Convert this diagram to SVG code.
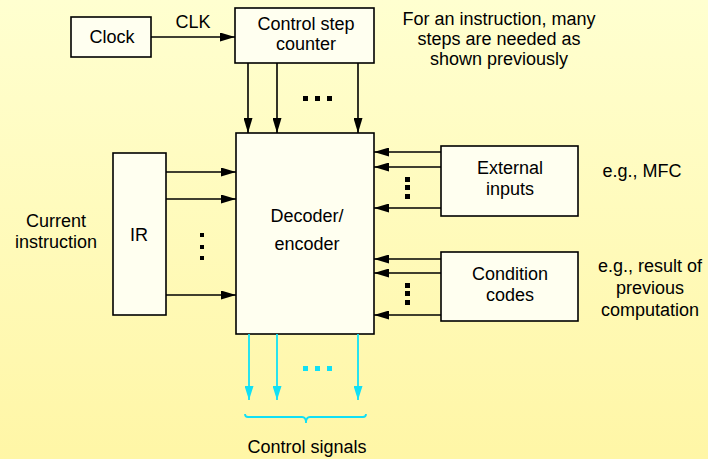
<svg xmlns="http://www.w3.org/2000/svg" width="708" height="459" viewBox="0 0 708 459">
<defs>
<linearGradient id="bg" x1="0" y1="0" x2="0" y2="1">
<stop offset="0" stop-color="#FFFFD0"/>
<stop offset="1" stop-color="#FFF6A6"/>
</linearGradient>
<marker id="ah" markerUnits="userSpaceOnUse" markerWidth="15" markerHeight="9" refX="15" refY="4.5" orient="auto">
<path d="M0,0 L15,4.5 L0,9 z" fill="#000"/>
</marker>
<marker id="ahc" markerUnits="userSpaceOnUse" markerWidth="14" markerHeight="9" refX="14" refY="4.5" orient="auto">
<path d="M0,0 L14,4.5 L0,9 z" fill="#11E0F5"/>
</marker>
</defs>
<style>
text{font-family:"Liberation Sans",Arial,sans-serif;font-size:18px;fill:#000;text-anchor:middle}
.box{fill:#FFFFF0;stroke:#000;stroke-width:1.6}
.ln{stroke:#000;stroke-width:1.6;fill:none;marker-end:url(#ah)}
.cl{stroke:#11E0F5;stroke-width:1.8;fill:none;marker-end:url(#ahc)}
.dot{fill:#000}
.cdot{fill:#11E0F5}
</style>
<rect x="0" y="0" width="708" height="459" fill="url(#bg)"/>

<g id="clock">
<rect class="box" x="71" y="17" width="80" height="40"/>
<text x="112" y="43">Clock</text>
</g>
<g id="counter">
<rect class="box" x="235" y="8" width="139" height="55"/>
<text x="306" y="30">Control step</text>
<text x="306" y="50">counter</text>
</g>
<g id="note-top">
<text x="499" y="25">For an instruction, many</text>
<text x="499" y="45">steps are needed as</text>
<text x="499" y="65">shown previously</text>
</g>
<g id="decoder">
<rect class="box" x="236" y="133" width="138" height="201"/>
<text x="307" y="222">Decoder/</text>
<text x="307" y="250">encoder</text>
</g>
<g id="ir">
<rect class="box" x="113" y="153" width="53" height="162"/>
<text x="139" y="241">IR</text>
</g>
<g id="current-instruction">
<text x="56" y="227">Current</text>
<text x="56" y="248">instruction</text>
</g>
<g id="external">
<rect class="box" x="441" y="146" width="137" height="70"/>
<text x="510" y="174">External</text>
<text x="510" y="195">inputs</text>
</g>
<g id="note-mfc">
<text x="642" y="177">e.g., MFC</text>
</g>
<g id="condition">
<rect class="box" x="441" y="252" width="137" height="69"/>
<text x="510" y="280">Condition</text>
<text x="510" y="301">codes</text>
</g>
<g id="note-cond">
<text x="650" y="272">e.g., result of</text>
<text x="650" y="294">previous</text>
<text x="650" y="316">computation</text>
</g>
<g id="control-signals">
<text x="307" y="453">Control signals</text>
</g>

<g id="connectors">
<line class="ln" x1="151" y1="37" x2="235" y2="37"/>
<text x="193" y="28">CLK</text>
<line class="ln" x1="248" y1="63" x2="248" y2="133"/>
<line class="ln" x1="277" y1="63" x2="277" y2="133"/>
<line class="ln" x1="358" y1="63" x2="358" y2="133"/>
<rect class="dot" x="303" y="96" width="5" height="5"/>
<rect class="dot" x="315" y="96" width="5" height="5"/>
<rect class="dot" x="327" y="96" width="5" height="5"/>

<line class="ln" x1="166" y1="172" x2="236" y2="172"/>
<line class="ln" x1="166" y1="199" x2="236" y2="199"/>
<line class="ln" x1="166" y1="295" x2="236" y2="295"/>
<rect class="dot" x="200" y="233" width="4" height="4"/>
<rect class="dot" x="200" y="245" width="4" height="4"/>
<rect class="dot" x="200" y="256" width="4" height="4"/>

<line class="ln" x1="441" y1="152" x2="374" y2="152"/>
<line class="ln" x1="441" y1="167" x2="374" y2="167"/>
<line class="ln" x1="441" y1="208" x2="374" y2="208"/>
<rect class="dot" x="405" y="177" width="5" height="5"/>
<rect class="dot" x="405" y="185" width="5" height="5"/>
<rect class="dot" x="405" y="194" width="5" height="5"/>

<line class="ln" x1="441" y1="259" x2="374" y2="259"/>
<line class="ln" x1="441" y1="273" x2="374" y2="273"/>
<line class="ln" x1="441" y1="315" x2="374" y2="315"/>
<rect class="dot" x="405" y="283" width="5" height="5"/>
<rect class="dot" x="405" y="291" width="5" height="5"/>
<rect class="dot" x="405" y="300" width="5" height="5"/>

<line class="cl" x1="249" y1="334" x2="249" y2="400"/>
<line class="cl" x1="277" y1="334" x2="277" y2="400"/>
<line class="cl" x1="358" y1="334" x2="358" y2="400"/>
<rect class="cdot" x="303" y="366" width="5" height="5"/>
<rect class="cdot" x="315" y="366" width="5" height="5"/>
<rect class="cdot" x="327" y="366" width="5" height="5"/>
<path d="M245,414 Q245,417 248,417 L302,417 Q306,417 306,423 Q306,417 310,417 L363,417 Q366,417 366,414" stroke="#11E0F5" stroke-width="1.8" fill="none"/>
</g>
</svg>
